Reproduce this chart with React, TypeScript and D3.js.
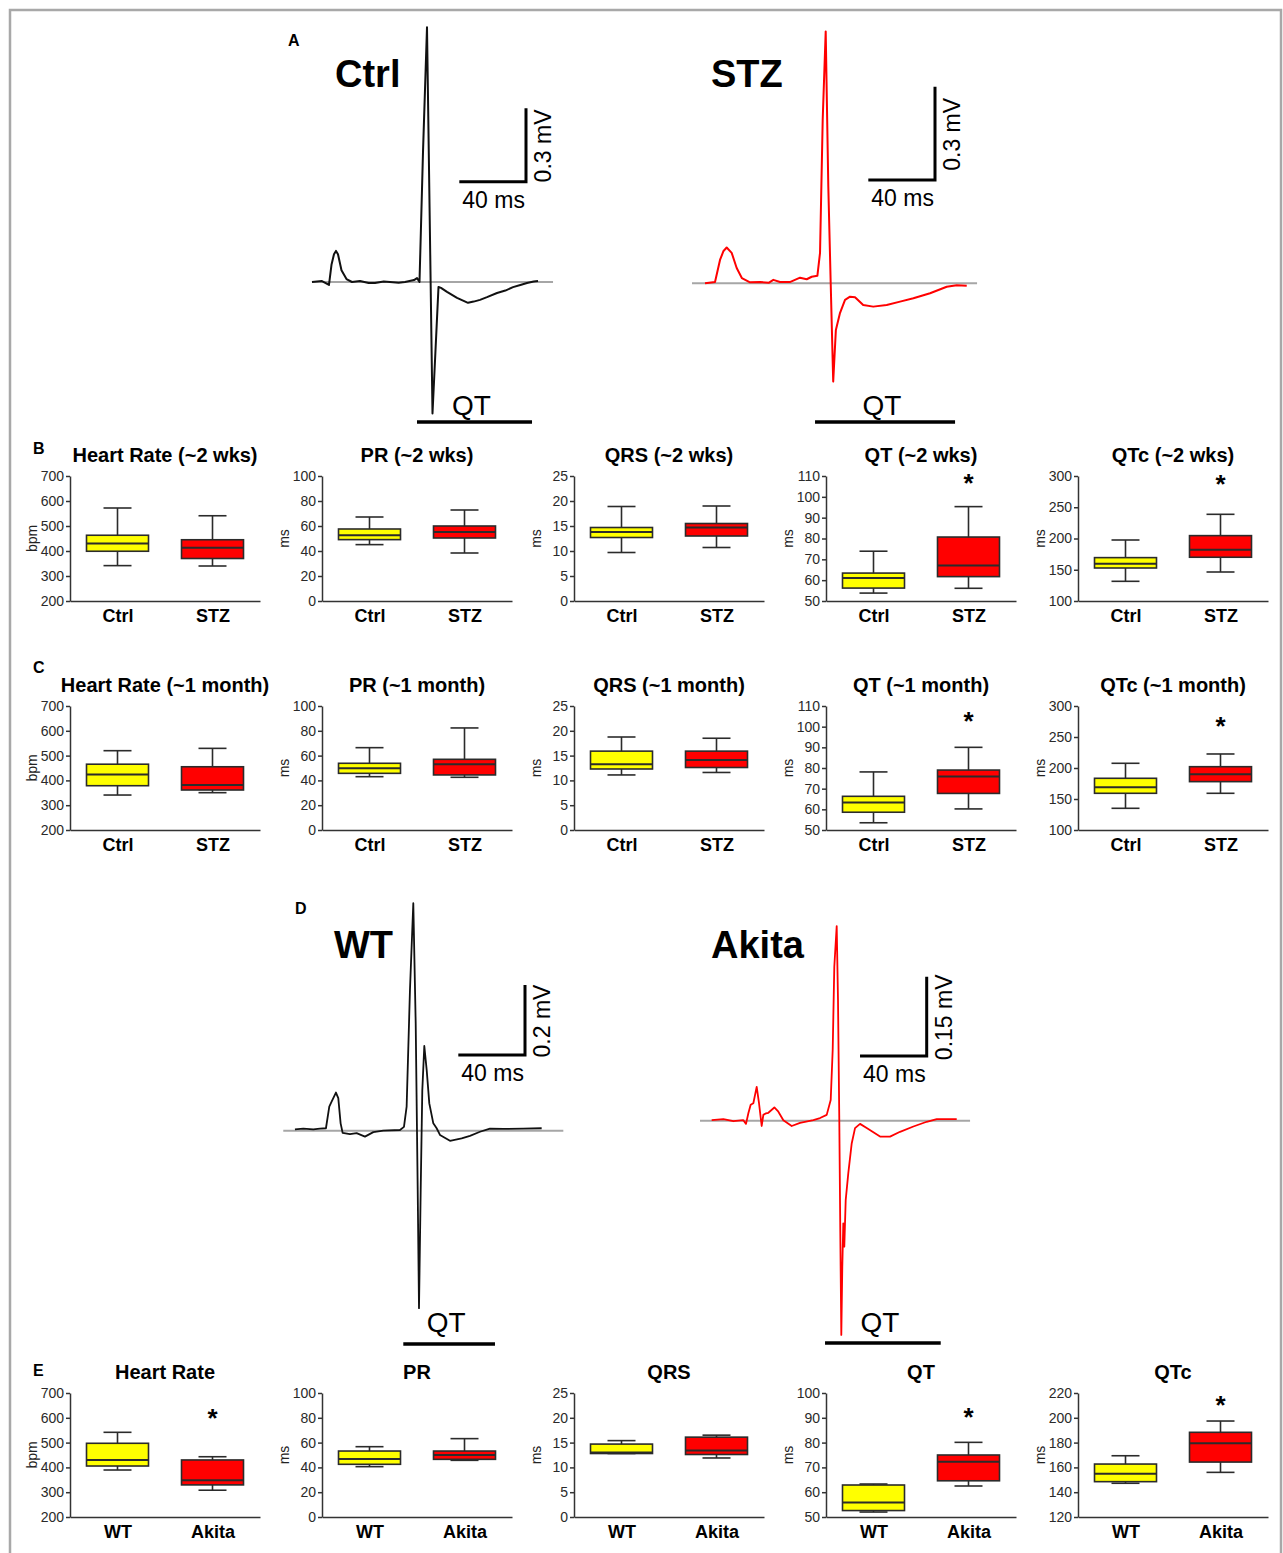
import React, { useEffect, useRef } from 'react';
import * as d3 from 'd3';

type Pt = [number, number]; // [time ms from R peak, mV]
type Stat = [number, number, number, number, number]; // min, q1, median, q3, max

// ECG traces
const ctrlTrace: Pt[] = [
  [-69, 0], [-63, 0.004], [-58.8, -0.012], [-57.3, 0.07], [-55.8, 0.113], [-54.6, 0.127], [-53.4, 0.113],
  [-51.3, 0.048], [-48.3, 0.012], [-45, 0], [-40.2, 0.004], [-35, -0.004], [-31.2, -0.004], [-26, 0.002],
  [-22.2, 0], [-17, -0.003], [-13.2, 0], [-7.8, 0.008], [-6, 0.016], [-4.5, 0], [-2.4, 0.53], [0, 1.04],
  [3.3, -0.537], [6.9, -0.02], [8.4, -0.024], [12, -0.04], [18, -0.065], [24.6, -0.085], [28, -0.08],
  [31.8, -0.073], [36, -0.062], [42, -0.045], [47, -0.035], [51.6, -0.021], [56, -0.012], [60, -0.004],
  [64, 0.002], [66.6, 0.004],
];
const stzTrace: Pt[] = [
  [-72.4, 0], [-66.4, 0.004], [-63.4, 0.075], [-61.3, 0.104], [-59.4, 0.115], [-56.4, 0.098], [-53.4, 0.049],
  [-50.3, 0.017], [-45.4, 0.003], [-39.4, 0.004], [-34, 0.002], [-31.4, 0.011], [-27.4, 0.004], [-21.5, 0.004],
  [-15.4, 0.018], [-11.4, 0.013], [-8.4, 0.021], [-5, 0.024], [-3.4, 0.098], [-1.8, 0.525], [0, 0.81],
  [1.56, 0.311], [3, 0], [4.5, -0.316], [6.1, -0.15], [8.5, -0.097], [11.6, -0.053], [14.6, -0.043],
  [17.6, -0.045], [22.5, -0.07], [28.5, -0.075], [36.6, -0.07], [44.6, -0.059], [52.6, -0.048],
  [62.6, -0.032], [72.6, -0.011], [78.6, -0.006], [84.6, -0.008],
];
const wtTrace: Pt[] = [
  [-71, 0.004], [-66, 0.006], [-60, 0.004], [-56, 0.006], [-52.4, 0.007], [-50.4, 0.069], [-49, 0.083],
  [-46.4, 0.109], [-45, 0.093], [-43.6, 0.021], [-42.4, -0.006], [-38, -0.01], [-34, -0.007], [-29, -0.017],
  [-24, -0.004], [-18, 0], [-8, 0.002], [-5.6, 0.011], [-4, 0.069], [-2, 0.402], [0, 0.65], [1.44, 0.307],
  [2.64, -0.169], [3.42, -0.507], [4.44, -0.169], [5.4, 0.116], [6.6, 0.242], [8.04, 0.173], [9.6, 0.078],
  [12, 0.021], [14, 0.007], [16, -0.012], [22, -0.029], [29, -0.022], [34, -0.015], [40, -0.003],
  [46, 0.006], [54, 0.005], [66, 0.006], [77, 0.007],
];
const akitaTrace: Pt[] = [
  [-75, 0.001], [-68, 0.003], [-62, -0.001], [-56, 0.001], [-54.4, -0.006], [-53, 0.014], [-51.6, 0.03],
  [-50, 0.033], [-48, 0.064], [-46.6, 0.033], [-45, -0.01], [-44, 0.011], [-42.4, 0.014], [-41, 0.015],
  [-37.4, 0.025], [-35, 0.017], [-32, 0.001], [-27, -0.01], [-22, -0.004], [-14, 0.001], [-10, 0.005],
  [-6, 0.011], [-3.6, 0.039], [-2.4, 0.134], [-1.44, 0.291], [0, 0.368], [0.78, 0.228], [1.56, 0.001],
  [2.16, -0.213], [2.76, -0.405], [3.36, -0.276], [3.96, -0.194], [4.56, -0.238], [5.4, -0.15],
  [6.96, -0.099], [9, -0.043], [11, -0.014], [14, -0.006], [18, -0.014], [26, -0.03], [32, -0.03],
  [38, -0.021], [46, -0.011], [54, -0.002], [60, 0.003], [72, 0.003],
];

// isoelectric line and QT interval extents (ms)
const ctrlIso = [-69, 75.6];
const stzIso = [-80.2, 90.8];
const wtIso = [-78, 90];
const akitaIso = [-82, 80];
const ctrlQT = [-6, 63];
const stzQT = [-6.4, 77.6];
const wtQT = [-6, 49];
const akitaQT = [-7, 62.4];

// box plots
const stzGroups = ['Ctrl', 'STZ'];
const akitaGroups = ['WT', 'Akita'];
const measures = ['Heart Rate', 'PR', 'QRS', 'QT', 'QTc'];
const units = ['bpm', 'ms', 'ms', 'ms', 'ms'];

const stzTicks = [
  [200, 300, 400, 500, 600, 700],
  [0, 20, 40, 60, 80, 100],
  [0, 5, 10, 15, 20, 25],
  [50, 60, 70, 80, 90, 100, 110],
  [100, 150, 200, 250, 300],
];
const akitaTicks = [
  [200, 300, 400, 500, 600, 700],
  [0, 20, 40, 60, 80, 100],
  [0, 5, 10, 15, 20, 25],
  [50, 60, 70, 80, 90, 100],
  [120, 140, 160, 180, 200, 220],
];

const twoWeekStats: Stat[][] = [
  [[341.5, 399, 430, 463, 572], [340, 370, 413, 445, 541]],
  [[45.1, 49.1, 52.6, 57.6, 67.2], [38.4, 50.4, 55.2, 60, 72.8]],
  [[9.7, 12.7, 13.8, 14.7, 18.9], [10.7, 13, 14.7, 15.5, 19]],
  [[53.8, 56.2, 61, 63.4, 73.9], [56.1, 61.7, 67.1, 80.7, 95.3]],
  [[131.5, 152.8, 159.8, 169.4, 197.6], [146.4, 170, 182.2, 204.6, 238.7]],
];
const oneMonthStats: Stat[][] = [
  [[341, 378.6, 423.8, 465.3, 519.8], [350.5, 361.3, 381.5, 455, 529.2]],
  [[43, 45.7, 49.7, 53.8, 66.4], [42.5, 44.4, 53, 57, 82.3]],
  [[11.1, 12.3, 13.25, 15.9, 18.75], [11.6, 12.6, 14.1, 15.9, 18.5]],
  [[53.5, 58.6, 63.3, 66.3, 78.1], [60.2, 67.7, 75.9, 79, 90]],
  [[135, 159.2, 168.9, 183.4, 207.6], [159.2, 178, 189.8, 202.1, 222.6]],
];
const akitaStats: Stat[][] = [
  [[389.5, 405.6, 430, 497.2, 541.5], [308, 329.4, 348.4, 430, 443]],
  [[40.6, 42.5, 46.8, 53.2, 56.7], [45.7, 46.5, 50, 53.2, 63.2]],
  [[12.8, 12.8, 13, 14.7, 15.4], [11.9, 12.6, 13.4, 16.1, 16.5]],
  [[52, 52.6, 55.8, 62.9, 63.3], [62.5, 64.6, 72.3, 75, 80.1]],
  [[147.2, 148.5, 154.9, 162.7, 169.4], [156, 164.3, 179.4, 188.3, 197.4]],
];

// significance stars (value where the star sits), null = none
const twoWeekStars = [null, null, null, 109, 296];
const oneMonthStars = [null, null, null, 105, 276];
const akitaStars = [618, null, null, 92.5, 214];

const FONT = 'Liberation Sans, Arial, Helvetica, sans-serif';
const fillColors = ['#ffff00', '#ff0000'];

interface EcgPanel {
  trace: Pt[]; iso: number[]; qt: number[]; color: string; width: number;
  label: string; labelX: number; labelY: number;
  x0: number; base: number; kx: number; ky: number; mv: number;
  bar: [number, number]; qtY: number; qtTextY: number;
}

const ecgPanels: EcgPanel[] = [
  { trace: ctrlTrace, iso: ctrlIso, qt: ctrlQT, color: '#111', width: 2, label: 'Ctrl', labelX: 335, labelY: 87,
    x0: 427, base: 282, kx: 1.667, ky: 245, mv: 0.3, bar: [526, 181.7], qtY: 422, qtTextY: 415 },
  { trace: stzTrace, iso: stzIso, qt: stzQT, color: '#ff0000', width: 2, label: 'STZ', labelX: 711, labelY: 87,
    x0: 825.7, base: 283.3, kx: 1.667, ky: 311, mv: 0.3, bar: [935, 180], qtY: 422, qtTextY: 415 },
  { trace: wtTrace, iso: wtIso, qt: wtQT, color: '#111', width: 1.8, label: 'WT', labelX: 334, labelY: 958,
    x0: 413.3, base: 1130.7, kx: 1.667, ky: 350, mv: 0.2, bar: [525, 1055], qtY: 1344, qtTextY: 1332 },
  { trace: akitaTrace, iso: akitaIso, qt: akitaQT, color: '#ff0000', width: 1.8, label: 'Akita', labelX: 711, labelY: 958,
    x0: 836.7, base: 1120.7, kx: 1.667, ky: 529, mv: 0.15, bar: [926.7, 1056], qtY: 1343, qtTextY: 1332 },
];

const boxRows = [
  { letter: 'B', letterY: 454, suffix: ' (~2 wks)', groups: stzGroups, ticks: stzTicks, stats: twoWeekStats, stars: twoWeekStars, top: 476, height: 125 },
  { letter: 'C', letterY: 673, suffix: ' (~1 month)', groups: stzGroups, ticks: stzTicks, stats: oneMonthStats, stars: oneMonthStars, top: 706, height: 124 },
  { letter: 'E', letterY: 1376, suffix: '', groups: akitaGroups, ticks: akitaTicks, stats: akitaStats, stars: akitaStars, top: 1393, height: 124 },
];

const colX = [70, 322, 574, 826, 1078];
const axisW = 190;

export default function App() {
  const svgRef = useRef<SVGSVGElement>(null);

  useEffect(() => {
    if (!svgRef.current) return;
    const svg = d3.select(svgRef.current);
    svg.selectAll('*').remove();

    svg.append('rect').attr('x', 0).attr('y', 0).attr('width', 1283).attr('height', 1553).attr('fill', '#fff');
    // figure frame
    svg.append('rect').attr('x', 10).attr('y', 10).attr('width', 1271).attr('height', 1560)
      .attr('fill', 'none').attr('stroke', '#a8a8a8').attr('stroke-width', 2.5);

    const letter = (t: string, x: number, y: number) =>
      svg.append('text').attr('x', x).attr('y', y).attr('font-family', FONT).attr('font-weight', 'bold')
        .attr('font-size', 16).text(t);

    letter('A', 288, 46);
    letter('D', 295, 914);

    // ECG traces
    ecgPanels.forEach(p => {
      const g = svg.append('g');
      const x = d3.scaleLinear().domain([0, 40]).range([p.x0, p.x0 + 40 * p.kx]);
      const y = d3.scaleLinear().domain([0, p.mv]).range([p.base, p.base - p.mv * p.ky]);

      g.append('line')
        .attr('x1', x(p.iso[0])).attr('x2', x(p.iso[1]))
        .attr('y1', y(0)).attr('y2', y(0))
        .attr('stroke', '#a6a6a6').attr('stroke-width', 2);

      const line = d3.line<Pt>().x(d => x(d[0])).y(d => y(d[1]));
      g.append('path').datum(p.trace).attr('d', line)
        .attr('fill', 'none').attr('stroke', p.color).attr('stroke-width', p.width)
        .attr('stroke-linejoin', 'round');

      g.append('text').attr('x', p.labelX).attr('y', p.labelY)
        .attr('font-family', FONT).attr('font-weight', 'bold').attr('font-size', 38).text(p.label);

      // scale bar
      const [bx, by] = p.bar;
      const w = x(40) - x(0);
      const h = y(0) - y(p.mv);
      g.append('path').attr('d', `M${bx - w},${by}H${bx}V${by - h}`)
        .attr('fill', 'none').attr('stroke', '#000').attr('stroke-width', 3);
      g.append('text').attr('x', bx - w / 2 + 1).attr('y', by + 26)
        .attr('text-anchor', 'middle').attr('font-family', FONT).attr('font-size', 23).text('40 ms');
      g.append('text')
        .attr('transform', `translate(${bx + 25},${by - h / 2 + 1}) rotate(-90)`)
        .attr('text-anchor', 'middle').attr('font-family', FONT).attr('font-size', 23).text(`${p.mv} mV`);

      // QT interval
      g.append('line')
        .attr('x1', x(p.qt[0])).attr('x2', x(p.qt[1]))
        .attr('y1', p.qtY).attr('y2', p.qtY)
        .attr('stroke', '#000').attr('stroke-width', 3.5);
      g.append('text').attr('x', (x(p.qt[0]) + x(p.qt[1])) / 2 - 3).attr('y', p.qtTextY)
        .attr('text-anchor', 'middle').attr('font-family', FONT).attr('font-size', 28).text('QT');
    });

    // Box plot rows
    boxRows.forEach(row => {
      letter(row.letter, 33, row.letterY);
      measures.forEach((m, i) => {
        const left = colX[i];
        const ticks = row.ticks[i];
        const g = svg.append('g');
        const y = d3.scaleLinear().domain([ticks[0], ticks[ticks.length - 1]]).range([row.top + row.height, row.top]);
        const xs = d3.scalePoint<string>().domain(row.groups).range([left, left + axisW]).padding(0.5);

        g.append('text').attr('x', left + axisW / 2).attr('y', row.top - 14)
          .attr('text-anchor', 'middle').attr('font-family', FONT).attr('font-weight', 'bold')
          .attr('font-size', 20).text(m + row.suffix);

        g.append('text')
          .attr('transform', `translate(${left - 33},${row.top + row.height / 2}) rotate(-90)`)
          .attr('text-anchor', 'middle').attr('font-family', FONT).attr('font-size', 14)
          .attr('fill', '#222').text(units[i]);

        const yAxis = g.append('g').attr('transform', `translate(${left},0)`)
          .call(d3.axisLeft(y).tickValues(ticks).tickSize(4).tickSizeOuter(0).tickPadding(2).tickFormat(d3.format('d')));
        yAxis.attr('font-family', FONT).attr('font-size', 14);
        yAxis.select('.domain').attr('stroke', '#333').attr('stroke-width', 1.5);
        yAxis.selectAll('.tick line').attr('stroke', '#333').attr('stroke-width', 1.5);
        yAxis.selectAll('.tick text').attr('fill', '#2a2a2a');

        const xAxis = g.append('g').attr('transform', `translate(0,${row.top + row.height})`)
          .call(d3.axisBottom(xs).tickSize(0).tickSizeOuter(0).tickPadding(8));
        xAxis.attr('font-family', FONT).attr('font-size', 18).attr('font-weight', 'bold');
        xAxis.select('.domain').attr('stroke', '#333').attr('stroke-width', 1.5);
        xAxis.selectAll('.tick text').attr('fill', '#000');

        const boxW = 62;
        const capW = 28;
        row.groups.forEach((grp, j) => {
          const [mn, q1, med, q3, mx] = row.stats[i][j];
          const cx = xs(grp) as number;
          const bg = g.append('g').attr('stroke', '#2b2b2b').attr('stroke-width', 1.6);
          bg.append('line').attr('x1', cx).attr('x2', cx).attr('y1', y(mx)).attr('y2', y(mn));
          bg.append('line').attr('x1', cx - capW / 2).attr('x2', cx + capW / 2).attr('y1', y(mx)).attr('y2', y(mx));
          bg.append('line').attr('x1', cx - capW / 2).attr('x2', cx + capW / 2).attr('y1', y(mn)).attr('y2', y(mn));
          bg.append('rect').attr('x', cx - boxW / 2).attr('width', boxW)
            .attr('y', y(q3)).attr('height', y(q1) - y(q3)).attr('fill', fillColors[j]);
          bg.append('line').attr('x1', cx - boxW / 2).attr('x2', cx + boxW / 2)
            .attr('y1', y(med)).attr('y2', y(med)).attr('stroke-width', 2);
        });

        const star = row.stars[i];
        if (star !== null) {
          g.append('text').attr('x', xs(row.groups[1]) as number).attr('y', y(star) + 14)
            .attr('text-anchor', 'middle').attr('font-family', FONT).attr('font-weight', 'bold')
            .attr('font-size', 26).text('*');
        }
      });
    });
  }, []);

  return (
    <svg
      ref={svgRef}
      width={1283}
      height={1553}
      style={{ position: 'absolute', left: 0, top: 0, display: 'block' }}
    />
  );
}
